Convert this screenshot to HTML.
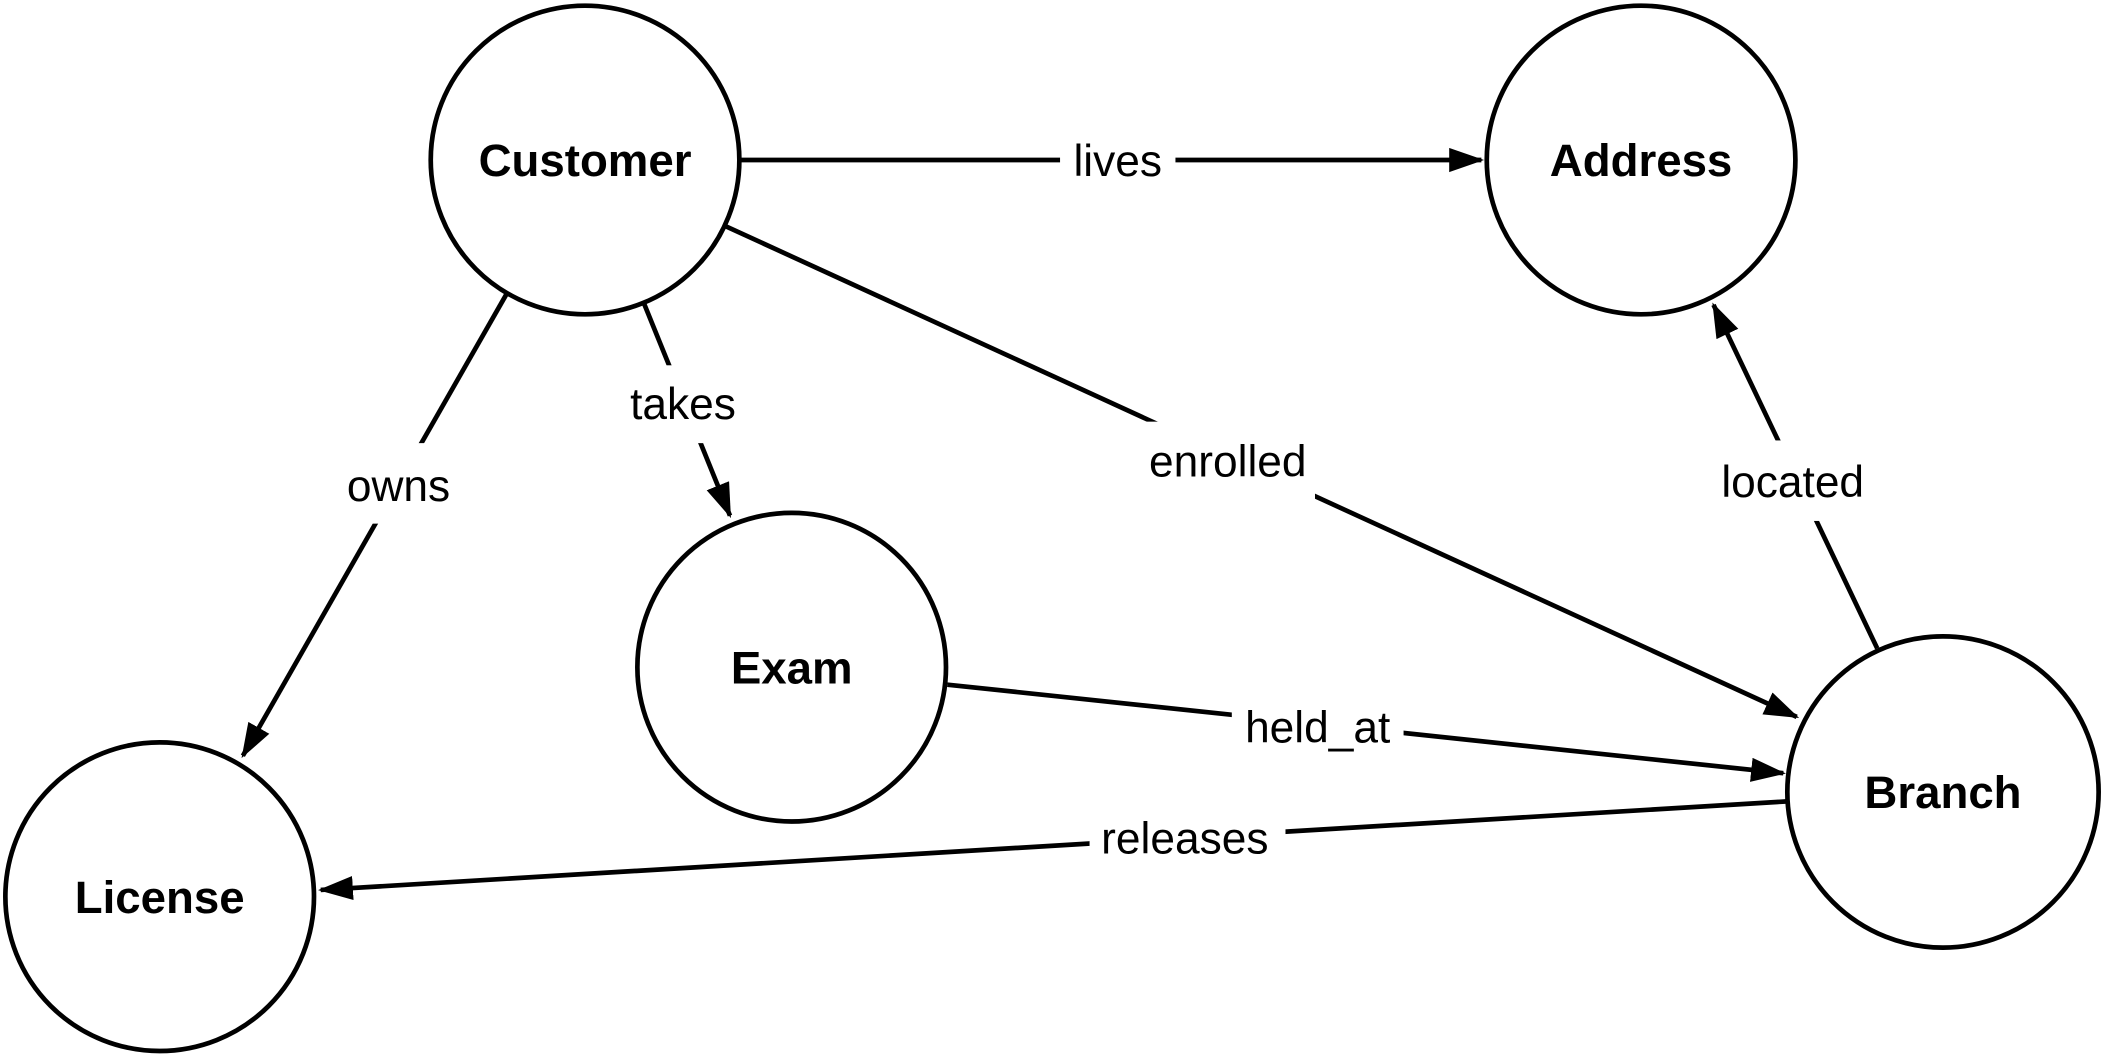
<!DOCTYPE html>
<html><head><meta charset="utf-8"><style>
html,body{margin:0;padding:0;background:#fff;}
svg{display:block;}
text{font-family:"Liberation Sans",Arial,sans-serif;}
</style></head><body>
<svg width="2104" height="1058" viewBox="0 0 1568 788" xmlns="http://www.w3.org/2000/svg">
<defs>
<marker id="a" markerUnits="userSpaceOnUse" markerWidth="28" markerHeight="20" refX="24" refY="9" orient="auto">
<path d="M0,0 L26,9 L0,18 Z" fill="#000"/>
</marker>
</defs>
<g stroke="#000" stroke-width="3.5" fill="none">
<line x1="552" y1="119" x2="1104" y2="119" marker-end="url(#a)"/>
<line x1="540" y1="168" x2="1339" y2="534" marker-end="url(#a)"/>
<line x1="480" y1="226" x2="544" y2="384" marker-end="url(#a)"/>
<line x1="378" y1="218" x2="181" y2="563" marker-end="url(#a)"/>
<line x1="1399" y1="483" x2="1277" y2="227" marker-end="url(#a)"/>
<line x1="706" y1="510" x2="1329" y2="576" marker-end="url(#a)"/>
<line x1="1332" y1="597" x2="239" y2="663" marker-end="url(#a)"/>
<circle cx="436" cy="119" r="115"/>
<circle cx="1223" cy="119" r="115"/>
<circle cx="590" cy="497" r="115"/>
<circle cx="119" cy="668" r="115"/>
<circle cx="1448" cy="590" r="116"/>
</g>
<g fill="#fff">
<rect x="790" y="100" width="86" height="38"/>
<rect x="852" y="314" width="128" height="58"/>
<rect x="462" y="272" width="96" height="58"/>
<rect x="250" y="330" width="96" height="60"/>
<rect x="1276" y="328" width="122" height="60"/>
<rect x="918" y="516" width="128" height="48"/>
<rect x="812" y="600" width="146" height="48"/>
</g>
<g font-size="33" text-anchor="middle" fill="#000">
<text x="833" y="131">lives</text>
<text x="915" y="355">enrolled</text>
<text x="509" y="312">takes</text>
<text x="297" y="373">owns</text>
<text x="1336" y="370">located</text>
<text x="982" y="553">held_at</text>
<text x="883" y="636">releases</text>
</g>
<g font-size="34" font-weight="bold" text-anchor="middle" fill="#000">
<text x="436" y="131">Customer</text>
<text x="1223" y="131">Address</text>
<text x="590" y="509">Exam</text>
<text x="119" y="680">License</text>
<text x="1448" y="602">Branch</text>
</g>
</svg>
</body></html>
